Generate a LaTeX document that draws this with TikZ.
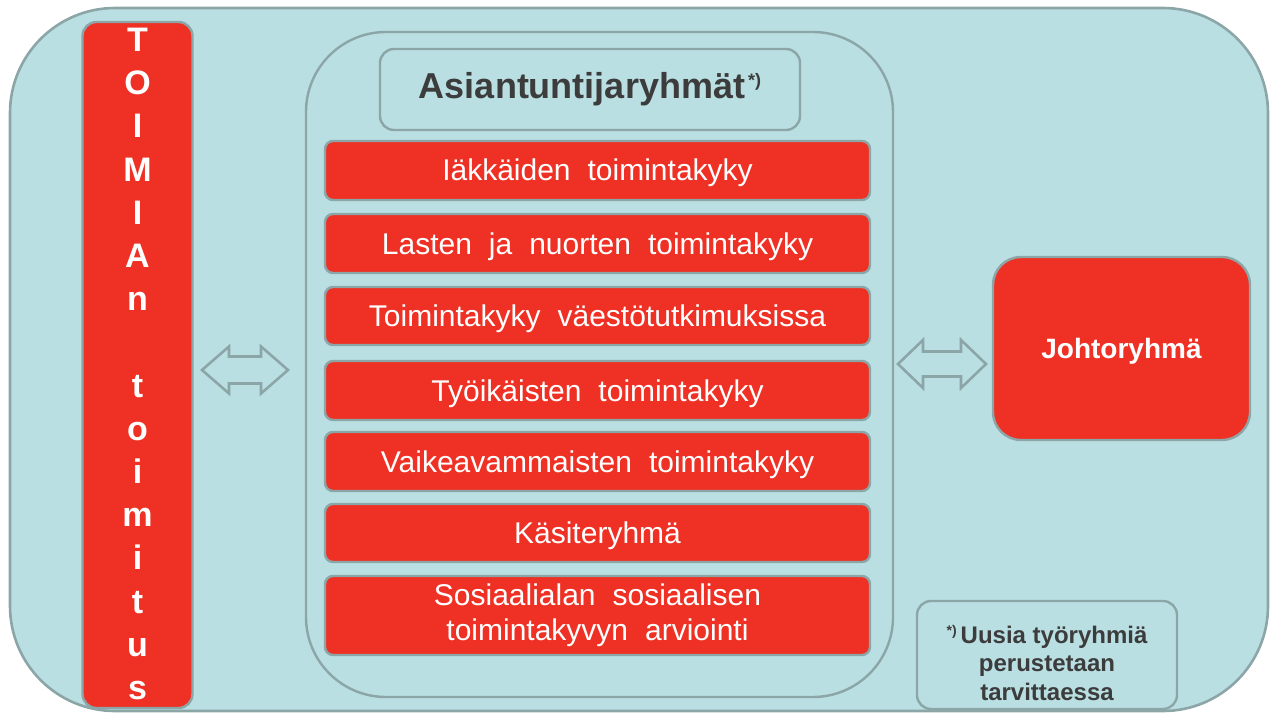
\documentclass[tikz,border=0pt]{standalone}
\usepackage{fontspec}
\setmainfont{Liberation Sans}
\definecolor{teal}{RGB}{185,223,226}
\definecolor{edge}{RGB}{140,166,168}
\definecolor{redbox}{RGB}{238,49,36}
\definecolor{darktext}{RGB}{60,60,60}
\newcommand{\barfont}{\fontsize{30}{35}\selectfont\spaceskip=17pt\relax}
\tikzset{
  panel/.style={draw=edge, line width=2.6pt, fill=teal},
  redbar/.style={draw=edge, line width=2.4pt, fill=redbox, rounded corners=8pt,
    minimum width=545pt, inner sep=0pt, text=white, font=\barfont},
  oneline/.style={text height=27pt, text depth=6pt},
  blockarrow/.style={draw=edge, line width=2.6pt, fill=teal, line join=miter},
}
\begin{document}
\begin{tikzpicture}[x=1pt,y=-1pt]
\useasboundingbox (0,0) rectangle (1271,714);
% outer panel
\node[panel, rounded corners=105pt, minimum width=1258pt, minimum height=703pt, inner sep=0pt] (outer) at (639,359.5) {};
% TOIMIA box
\node[draw=edge, line width=2.4pt, fill=redbox, rounded corners=14pt, minimum width=110pt, minimum height=686pt, inner sep=0pt] (toimia) at (137.5,365) {};
\node[anchor=north, inner sep=0pt, text=white, align=center,
  font=\bfseries\fontsize{34}{43.2}\selectfont] (toimiatext) at (137.5,28)
  {T\\O\\I\\M\\I\\A\\n\\\mbox{}\\t\\o\\i\\m\\i\\t\\u\\s};
% middle container
\node[draw=edge, line width=2.4pt, rounded corners=80pt, minimum width=587pt, minimum height=665pt, inner sep=0pt] (middle) at (599.5,364.5) {};
% title box
\node[panel, line width=2.4pt, rounded corners=14pt, minimum width=420pt, minimum height=81pt, inner sep=0pt,
  text=darktext, font=\bfseries\fontsize{36}{40}\selectfont] (title) at (590,89.5)
  {Asiantuntijaryhmät\raisebox{12pt}{\fontsize{18}{20}\selectfont\,*)}};
% red bars
\node[redbar, oneline, minimum height=59pt] (r1) at (597.5,170.5) {Iäkkäiden toimintakyky};
\node[redbar, oneline, minimum height=59pt] (r2) at (597.5,243.5) {Lasten ja nuorten toimintakyky};
\node[redbar, oneline, minimum height=58pt] (r3) at (597.5,316) {Toimintakyky väestötutkimuksissa};
\node[redbar, oneline, minimum height=59pt] (r4) at (597.5,390.5) {Työikäisten toimintakyky};
\node[redbar, oneline, minimum height=59pt] (r5) at (597.5,461.5) {Vaikeavammaisten toimintakyky};
\node[redbar, oneline, minimum height=58pt] (r6) at (597.5,533) {Käsiteryhmä};
\node[redbar, minimum height=79pt, align=center] (r7) at (597.5,615.5) {Sosiaalialan sosiaalisen\\toimintakyvyn arviointi};
% Johtoryhmä
\node[draw=edge, line width=2.4pt, fill=redbox, rounded corners=28pt, minimum width=257pt, minimum height=183pt, inner sep=0pt,
  text=white, font=\bfseries\fontsize{28}{32}\selectfont, text height=25pt, text depth=6pt] (johto) at (1121.5,348.5) {Johtoryhmä};
% note box
\node[draw=edge, line width=2.4pt, rounded corners=14pt, minimum width=260pt, minimum height=108pt, inner sep=0pt] (note) at (1047,655) {};
\node[text=darktext, align=center, inner sep=0pt, font=\bfseries\fontsize{24}{28.5}\selectfont] (notetext) at (1047,663)
  {\raisebox{8pt}{\fontsize{14}{16}\selectfont *)}\,Uusia työryhmiä\\perustetaan\\tarvittaessa};
% double block arrows
\coordinate (la) at (245,370);
\coordinate (ra) at (942,364);
\path[blockarrow, shift={(la)}] (-43,0) -- (-16,-23.5) -- (-16,-13.5) -- (16,-13.5) -- (16,-23.5) -- (43,0)
  -- (16,23.5) -- (16,13.5) -- (-16,13.5) -- (-16,23.5) -- cycle;
\path[blockarrow, shift={(ra)}] (-44,0) -- (-19,-24) -- (-19,-12.5) -- (19,-12.5) -- (19,-24) -- (44,0)
  -- (19,24) -- (19,12.5) -- (-19,12.5) -- (-19,24) -- cycle;
\end{tikzpicture}
\end{document}
